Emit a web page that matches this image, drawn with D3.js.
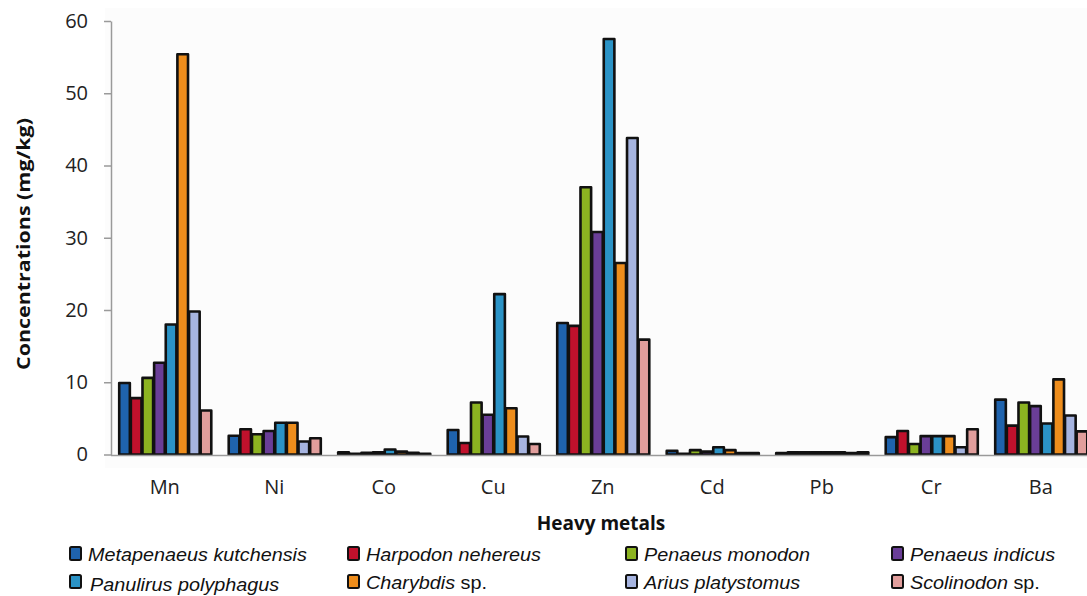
<!DOCTYPE html>
<html><head><meta charset="utf-8">
<script src="https://cdn.jsdelivr.net/npm/d3@7"></script>
<style>body{margin:0;background:#fff}svg{display:block}</style>
</head><body>
<svg id="c" width="1087" height="596"></svg>
<script>
const categories = ["Mn","Ni","Co","Cu","Zn","Cd","Pb","Cr","Ba"];
const species = ["Metapenaeus kutchensis","Harpodon nehereus","Penaeus monodon","Penaeus indicus","Panulirus polyphagus","Charybdis sp.","Arius platystomus","Scolinodon sp."];
const colors = ["#1f63ad","#c0112c","#8cb321","#6a3e97","#2b93c6","#ee8d1c","#a6b4e0","#e19e9c"];
// values per species, in category order
const metapenaeus = [9.9, 2.6, 0.3, 3.4, 18.2, 0.5, 0.2, 2.4, 7.6];
const harpodon    = [7.8, 3.5, 0.1, 1.6, 17.8, 0.1, 0.3, 3.25, 4.0];
const monodon     = [10.6, 2.8, 0.25, 7.2, 37.0, 0.6, 0.3, 1.45, 7.2];
const indicus     = [12.7, 3.25, 0.3, 5.5, 30.8, 0.4, 0.3, 2.55, 6.7];
const panulirus   = [18.0, 4.4, 0.7, 22.2, 57.5, 1.0, 0.3, 2.55, 4.3];
const charybdis   = [55.4, 4.4, 0.4, 6.4, 26.5, 0.6, 0.3, 2.55, 10.4];
const arius       = [19.8, 1.8, 0.25, 2.5, 43.8, 0.2, 0.2, 1.0, 5.4];
const scolinodon  = [6.1, 2.25, 0.1, 1.45, 15.9, 0.2, 0.3, 3.5, 3.2];
const seriesValues = [metapenaeus, harpodon, monodon, indicus, panulirus, charybdis, arius, scolinodon];
const yTicks = [0,10,20,30,40,50,60];

const svg = d3.select("#c");
const y = d3.scaleLinear().domain([0,60]).range([454.5,21]);
const x0 = d3.scaleBand().domain(categories).range([110,1095.5]).paddingInner(0.15).paddingOuter(0.075);
const x1 = d3.scaleBand().domain(species).range([0,x0.bandwidth()]);

svg.append("rect").attr("x",105).attr("y",8).attr("width",982).attr("height",460).attr("fill","#fcfcfc");

// y axis
const yAxis = d3.axisLeft(y).tickValues(yTicks).tickSize(7).tickSizeOuter(0);
const gy = svg.append("g").attr("transform","translate(111,0)").call(yAxis);
gy.select(".domain").attr("stroke","#9a9a9a").attr("stroke-width",1.5);
gy.selectAll(".tick line").attr("stroke","#9a9a9a").attr("stroke-width",1.5);
gy.selectAll(".tick text").attr("x",-23).attr("font-family","'Open Sans',sans-serif").attr("font-size",20).attr("fill","#222");

// bars
const groups = svg.append("g").selectAll("g").data(categories).join("g")
  .attr("transform", d => `translate(${x0(d)},0)`);
groups.selectAll("rect").data((c,ci) => species.map((s,si) => ({s, si, v: seriesValues[si][ci]})))
  .join("rect")
  .attr("x", d => x1(d.s)+1)
  .attr("width", x1.bandwidth()-1)
  .attr("y", d => y(d.v))
  .attr("height", d => y(0)-y(d.v))
  .attr("fill", d => colors[d.si])
  .attr("stroke","#111").attr("stroke-width",2.6).attr("stroke-linejoin","round");

svg.append("line").attr("x1",111).attr("x2",1087).attr("y1",y(0)+1).attr("y2",y(0)+1).attr("stroke","#9a9a9a").attr("stroke-width",1.5);

// x axis labels
const xAxis = d3.axisBottom(x0).tickSize(0);
const gx = svg.append("g").attr("transform",`translate(0,${y(0)+22})`).call(xAxis);
gx.select(".domain").remove();
gx.selectAll(".tick text").attr("font-family","'Open Sans',sans-serif").attr("font-size",20).attr("fill","#222");

// axis titles
svg.append("text").attr("transform","translate(30,244) rotate(-90)").attr("text-anchor","middle")
  .attr("font-family","'Open Sans',sans-serif").attr("font-weight","bold").attr("font-size",18).attr("fill","#111")
  .attr("textLength",252).attr("lengthAdjust","spacingAndGlyphs")
  .text("Concentrations (mg/kg)");
svg.append("text").attr("x",601).attr("y",530).attr("text-anchor","middle")
  .attr("font-family","'Open Sans',sans-serif").attr("font-weight","bold").attr("font-size",19).attr("fill","#111")
  .text("Heavy metals");

// legend
const legX = [70,348,626,892];
const legY = [561,589];
const leg = svg.append("g").selectAll("g").data(species).join("g")
  .attr("transform",(d,i)=>`translate(${legX[i%4]},${legY[Math.floor(i/4)]})`);
leg.append("rect").attr("x",0).attr("y",-14).attr("width",11).attr("height",13).attr("rx",1.5)
  .attr("fill",(d,i)=>colors[i]).attr("stroke","#111").attr("stroke-width",2);
leg.each(function(d){
  const t = d3.select(this).append("text")
    .attr("transform",`translate(${(d==="Panulirus polyphagus")?20:18},${(d==="Panulirus polyphagus")?2:0}) scale(1.1,1)`)
    .attr("font-family","'Liberation Sans',Arial,sans-serif").attr("font-size",18).attr("fill","#111");
  if (d.endsWith(" sp.")) {
    t.append("tspan").attr("font-style","italic").text(d.replace(" sp.",""));
    t.append("tspan").text(" sp.");
  } else {
    t.attr("font-style","italic").text(d);
  }
});
</script>
</body></html>
